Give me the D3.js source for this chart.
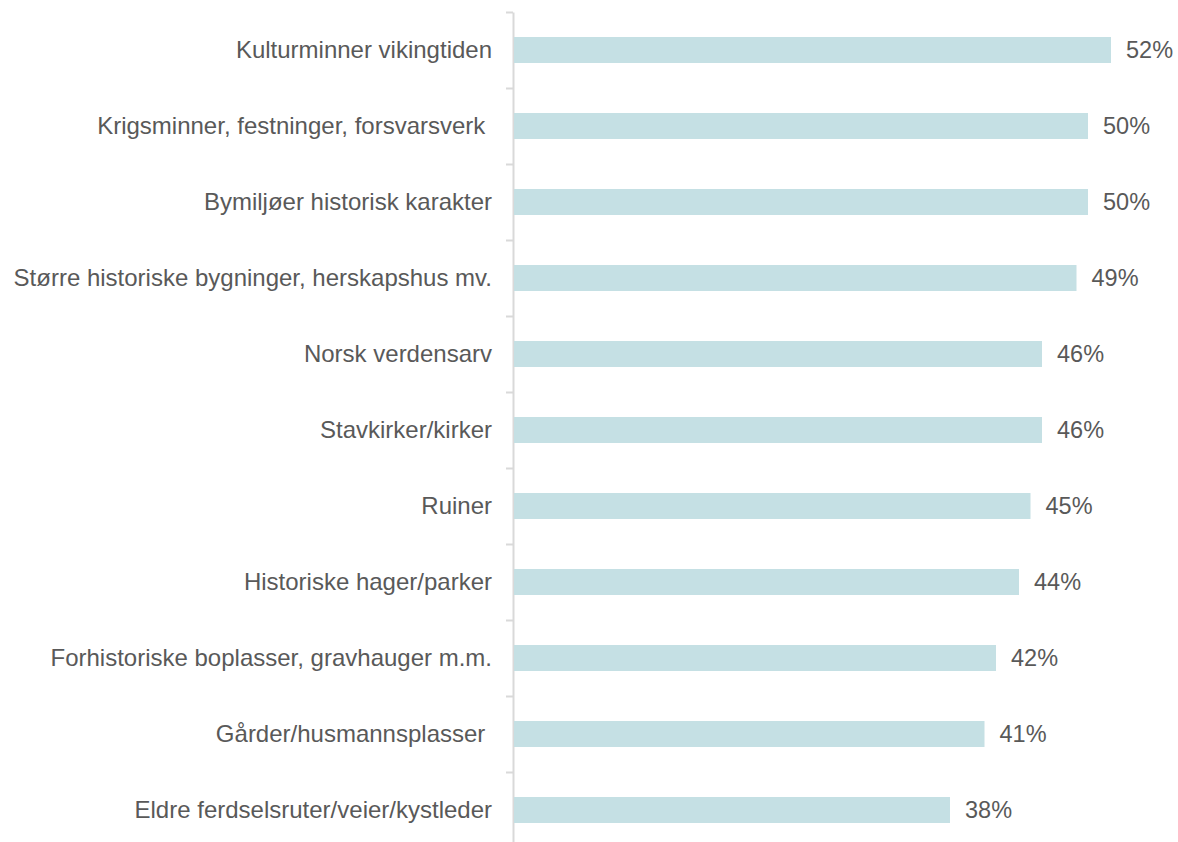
<!DOCTYPE html>
<meta charset="utf-8">
<style>
    body { margin: 0; background: #fff; }
    text { font-family: "Liberation Sans", Arial, sans-serif; fill: #595959; white-space: pre; }
    .axis path, .axis line { stroke: #d9d9d9; stroke-width: 2px; }
</style>
<script src="https://cdn.jsdelivr.net/npm/d3@7"></script>
<body>
<script>
    var categories = [
        "Kulturminner vikingtiden",
        "Krigsminner, festninger, forsvarsverk ",
        "Bymiljøer historisk karakter",
        "Større historiske bygninger, herskapshus mv.",
        "Norsk verdensarv",
        "Stavkirker/kirker",
        "Ruiner",
        "Historiske hager/parker",
        "Forhistoriske boplasser, gravhauger m.m.",
        "Gårder/husmannsplasser ",
        "Eldre ferdselsruter/veier/kystleder"
    ];
    var values = [0.52, 0.50, 0.50, 0.49, 0.46, 0.46, 0.45, 0.44, 0.42, 0.41, 0.38];

    var width = 1178;
    var height = 842;
    var x0 = 513;

    var svg = d3.select("body").append("svg")
        .attr("width", width)
        .attr("height", height);

    var x = d3.scaleLinear().domain([0, 0.6]).range([x0, x0 + 690]);
    var y = d3.scaleBand().domain(categories).range([12, 848])
        .paddingInner(0.658).paddingOuter(0.329);
    var edges = d3.scaleLinear().domain([0, categories.length]).range([12, 848]);

    svg.append("g")
        .attr("class", "axis")
        .attr("transform", "translate(" + x0 + ",0)")
        .call(d3.axisLeft(edges).tickValues(d3.range(categories.length + 1))
            .tickFormat("").tickSize(7).tickSizeOuter(0));

    svg.selectAll("rect.bar")
        .data(values)
        .enter().append("rect")
        .attr("class", "bar")
        .attr("x", x(0) + 1)
        .attr("y", function(d, i) { return y(categories[i]); })
        .attr("width", function(d) { return x(d) - x(0) - 1; })
        .attr("height", y.bandwidth())
        .attr("fill", "#c5e0e4");

    svg.selectAll("text.cat")
        .data(categories)
        .enter().append("text")
        .attr("class", "cat")
        .attr("x", x0 - 21)
        .attr("y", function(d) { return y(d) + y.bandwidth() / 2; })
        .attr("dy", "0.35em")
        .attr("text-anchor", "end")
        .style("font-size", "24px")
        .text(function(d) { return d; });

    svg.selectAll("text.val")
        .data(values)
        .enter().append("text")
        .attr("class", "val")
        .attr("x", function(d) { return x(d) + 15; })
        .attr("y", function(d, i) { return y(categories[i]) + y.bandwidth() / 2; })
        .attr("dy", "0.35em")
        .style("font-size", "23.5px")
        .text(function(d) { return Math.round(d * 100) + "%"; });
</script>
